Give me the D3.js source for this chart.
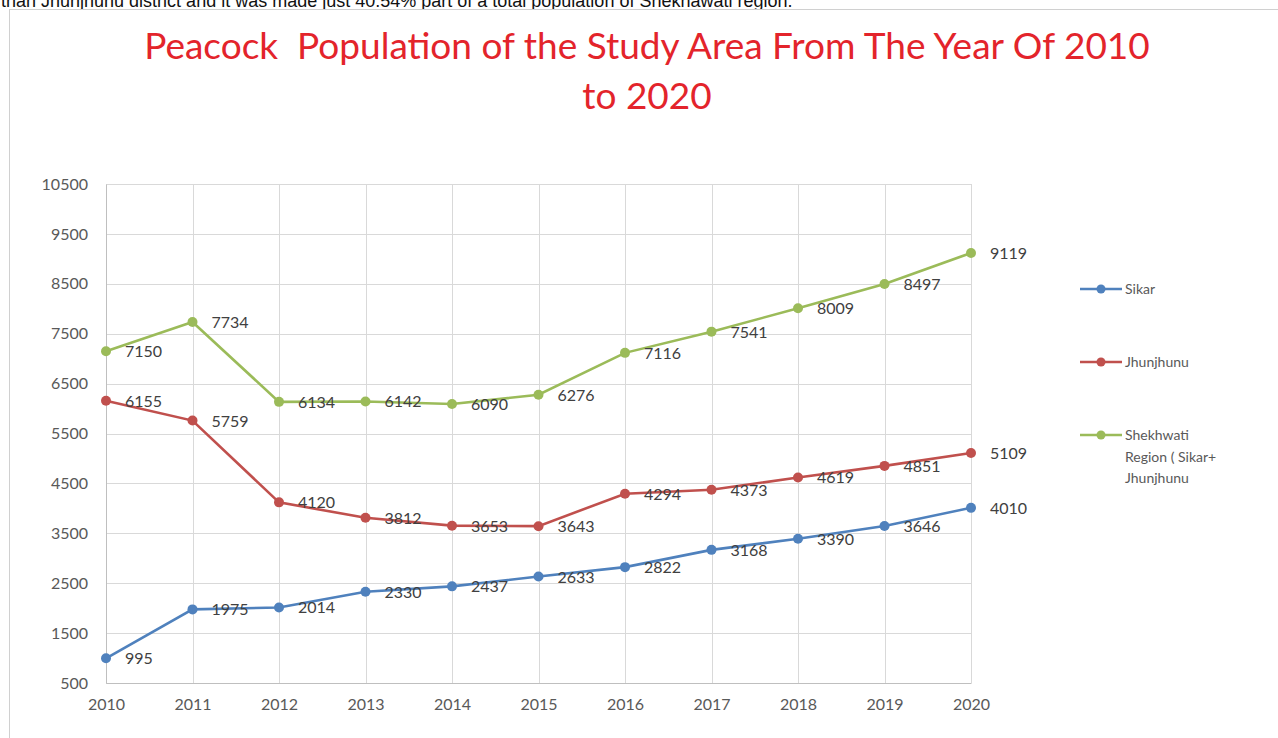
<!DOCTYPE html>
<html>
<head>
<meta charset="utf-8">
<script src="https://cdn.jsdelivr.net/npm/d3@7"></script>
<style>
  html, body { margin: 0; padding: 0; background: #fff; overflow: hidden; }
  svg { display: block; }
</style>
</head>
<body>
<div id="chart"></div>
<script>
// chart data
const years = [2010, 2011, 2012, 2013, 2014, 2015, 2016, 2017, 2018, 2019, 2020];
const sikar = [995, 1975, 2014, 2330, 2437, 2633, 2822, 3168, 3390, 3646, 4010];
const jhunjhunu = [6155, 5759, 4120, 3812, 3653, 3643, 4294, 4373, 4619, 4851, 5109];
const shekhwati = [7150, 7734, 6134, 6142, 6090, 6276, 7116, 7541, 8009, 8497, 9119];
const seriesNames = ["Sikar", "Jhunjhunu", "Shekhwati Region ( Sikar+ Jhunjhunu"];
const yTicks = [500, 1500, 2500, 3500, 4500, 5500, 6500, 7500, 8500, 9500, 10500];
const titleLines = ["Peacock  Population of the Study Area From The Year Of 2010", "to 2020"];

const width = 1278, height = 738;
const font = "Lato, 'Open Sans', sans-serif";

const svg = d3.select("#chart").append("svg")
    .attr("width", width)
    .attr("height", height);

// clipped sentence from the page above the chart
svg.append("text")
    .attr("x", 1)
    .attr("y", 7)
    .attr("font-family", "'Liberation Sans', Arial, sans-serif")
    .attr("font-size", 18)
    .attr("fill", "#111")
    .text("than Jhunjhunu district and it was made just 40.54% part of a total population of Shekhawati region.");

// chart frame
svg.append("rect")
    .attr("x", 9.5).attr("y", 9.5)
    .attr("width", 1290).attr("height", 760)
    .attr("fill", "#fff")
    .attr("stroke", "#d0d0d0");

// title
svg.append("g").selectAll("text")
    .data(titleLines)
    .enter().append("text")
    .attr("x", 647)
    .attr("y", (d, i) => 59 + i * 50)
    .attr("text-anchor", "middle")
    .attr("font-family", font)
    .attr("font-size", 37)
    .attr("fill", "#e3242b")
    .style("white-space", "pre")
    .text(d => d);

const x = d3.scalePoint().domain(years).range([106, 971]);
const y = d3.scaleLinear().domain([500, 10500]).range([683, 184]);

// grid
const grid = svg.append("g");
grid.selectAll("line.h")
    .data(yTicks)
    .enter().append("line")
    .attr("x1", 106).attr("x2", 971)
    .attr("y1", d => Math.round(y(d)) + 0.5)
    .attr("y2", d => Math.round(y(d)) + 0.5)
    .attr("stroke", "#d9d9d9");
grid.selectAll("line.v")
    .data(years)
    .enter().append("line")
    .attr("x1", d => Math.round(x(d)) + 0.5)
    .attr("x2", d => Math.round(x(d)) + 0.5)
    .attr("y1", 184).attr("y2", 683)
    .attr("stroke", "#d9d9d9");

// axes
const yAxis = svg.append("g")
    .attr("transform", "translate(106,0)")
    .call(d3.axisLeft(y).tickValues(yTicks).tickFormat(d3.format("d")).tickSize(0).tickPadding(18));
const xAxis = svg.append("g")
    .attr("transform", "translate(0,683)")
    .call(d3.axisBottom(x).tickSize(0).tickPadding(16));
[xAxis, yAxis].forEach(ax => {
    ax.select(".domain").attr("stroke", "#bfbfbf");
    ax.selectAll("text")
        .attr("font-family", font)
        .attr("font-size", 16)
        .attr("fill", "#595959");
});

const colors = ["#4f81bd", "#c0504d", "#9bbb59"];
const allSeries = [sikar, jhunjhunu, shekhwati];

const line = d3.line()
    .x((d, i) => x(years[i]))
    .y(d => y(d));

allSeries.forEach((vals, s) => {
    const g = svg.append("g");
    g.append("path")
        .datum(vals)
        .attr("d", line)
        .attr("fill", "none")
        .attr("stroke", colors[s])
        .attr("stroke-width", 2.6);
    g.selectAll("circle")
        .data(vals)
        .enter().append("circle")
        .attr("cx", (d, i) => x(years[i]))
        .attr("cy", d => y(d))
        .attr("r", 5)
        .attr("fill", colors[s]);
    g.selectAll("text")
        .data(vals)
        .enter().append("text")
        .attr("x", (d, i) => x(years[i]) + 19)
        .attr("y", d => y(d) + 6)
        .attr("font-family", font)
        .attr("font-size", 16)
        .attr("fill", "#404040")
        .text(d => d);
});

// legend
const legendY = [289, 362, 435];
const legend = svg.append("g");
seriesNames.forEach((name, s) => {
    const ly = legendY[s];
    legend.append("line")
        .attr("x1", 1080).attr("x2", 1122)
        .attr("y1", ly).attr("y2", ly)
        .attr("stroke", colors[s])
        .attr("stroke-width", 2.6);
    legend.append("circle")
        .attr("cx", 1101).attr("cy", ly)
        .attr("r", 4.5)
        .attr("fill", colors[s]);
    const lines = s === 2 ? ["Shekhwati", "Region ( Sikar+", "Jhunjhunu"] : [name];
    legend.append("text")
        .attr("font-family", font)
        .attr("font-size", 14)
        .attr("fill", "#595959")
        .selectAll("tspan")
        .data(lines)
        .enter().append("tspan")
        .attr("x", 1125)
        .attr("y", (d, i) => ly + 5 + i * 21.5)
        .text(d => d);
});
</script>
</body>
</html>
